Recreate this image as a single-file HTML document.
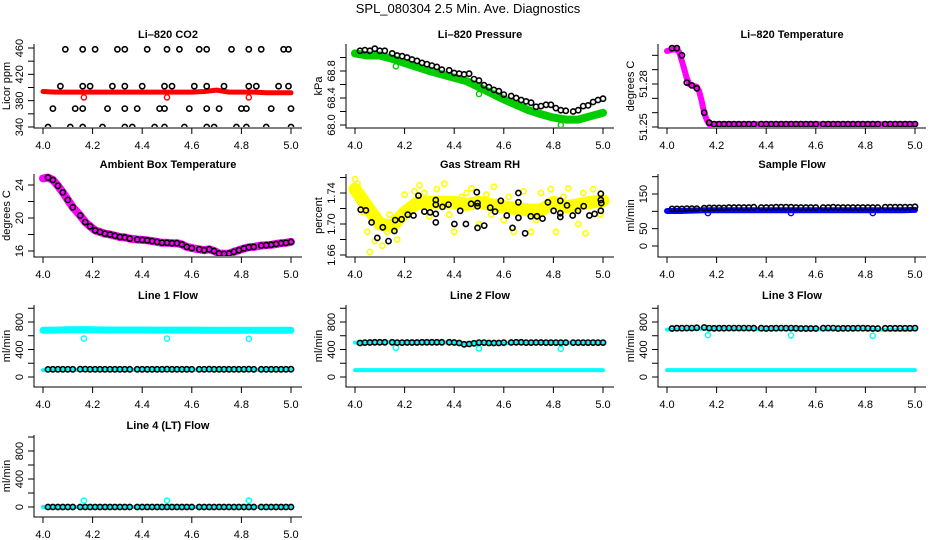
<!DOCTYPE html>
<html><head><meta charset="utf-8">
<style>
html,body{margin:0;padding:0;background:#fff;}
svg{display:block;font-family:"Liberation Sans",Arial,sans-serif;}
</style></head>
<body>
<svg id="fig" width="936" height="540" viewBox="0 0 936 540">
<text x="468" y="13" text-anchor="middle" font-size="13">SPL_080304  2.5 Min. Ave. Diagnostics</text>
</svg>
<script>
const blackX = [4.02,4.04,4.06,4.08,4.10,4.12,4.15,4.17,4.19,4.21,4.23,4.25,4.27,4.29,4.31,4.33,4.35,4.38,4.40,4.42,4.44,4.46,4.48,4.50,4.52,4.54,4.56,4.58,4.60,4.63,4.65,4.67,4.69,4.71,4.73,4.75,4.77,4.79,4.81,4.83,4.85,4.88,4.90,4.92,4.94,4.96,4.98,5.00];
const bandX = [4.00,4.05,4.10,4.15,4.20,4.25,4.30,4.35,4.40,4.45,4.50,4.55,4.60,4.65,4.70,4.75,4.80,4.85,4.90,4.95,5.00];
const outlierX = [4.165,4.50,4.83];
const xTicks = [4.0,4.2,4.4,4.6,4.8,5.0];
const xTickLabels = ["4.0","4.2","4.4","4.6","4.8","5.0"];

const co2BlackX = [4.09,4.16,4.21,4.30,4.33,4.42,4.50,4.55,4.63,4.66,4.76,4.83,4.88,4.97,4.99, 4.07,4.16,4.19,4.28,4.33,4.40,4.49,4.52,4.61,4.66,4.73,4.83,4.86,4.95,4.99, 4.04,4.13,4.16,4.26,4.33,4.38,4.47,4.49,4.59,4.66,4.71,4.80,4.82,4.92,5.00, 4.02,4.11,4.16,4.24,4.33,4.36,4.45,4.49,4.57,4.66,4.69,4.78,4.82,4.90,5.00];
const co2BlackY = [458,458,458,458,458,458,458,458,458,458,458,458,458,458,458, 402,402,402,402,402,402,402,402,402,402,402,402,402,402,402, 368,368,368,368,368,368,368,368,368,368,368,368,368,368,368, 340,340,340,340,340,340,340,340,340,340,340,340,340,340,340];
const co2Band = [394,393,393,393,393,393,393,393,393,393,393,393,393,394,396,393,393,393,392,392,392];
const co2Outliers = [385,385,385];

const presBlack = [69.10,69.11,69.10,69.13,69.10,69.10,69.06,69.03,69.02,69.00,68.97,68.95,68.92,68.90,68.88,68.86,68.82,68.81,68.77,68.76,68.75,68.76,68.68,68.66,68.59,68.56,68.52,68.50,68.45,68.43,68.40,68.37,68.35,68.33,68.27,68.28,68.30,68.30,68.25,68.22,68.21,68.20,68.22,68.28,68.29,68.34,68.37,68.39];
const presBand = [69.06,69.03,69.03,68.98,68.92,68.86,68.80,68.75,68.70,68.65,68.56,68.47,68.38,68.30,68.22,68.16,68.11,68.08,68.08,68.13,68.18];
const presOutliers = [68.87,68.46,68.00];

const tempBlack = [51.305,51.305,51.300,51.281,51.279,51.277,51.260,51.253,51.252,51.252,51.252,51.252,51.252,51.252,51.252,51.252,51.252,51.252,51.252,51.252,51.252,51.252,51.252,51.252,51.252,51.252,51.252,51.252,51.252,51.252,51.252,51.252,51.252,51.252,51.252,51.252,51.252,51.252,51.252,51.252,51.252,51.252,51.252,51.252,51.252,51.252,51.252,51.252];
const tempBandX = [4.00,4.02,4.04,4.05,4.06,4.07,4.08,4.09,4.10,4.12,4.13,4.14,4.15,4.16,4.17,4.18,4.20,4.50,5.00];
const tempBand = [51.303,51.304,51.304,51.302,51.296,51.290,51.284,51.280,51.279,51.278,51.275,51.268,51.260,51.255,51.252,51.252,51.252,51.252,51.252];

const ambBlack = [24.9,24.6,23.9,23.1,22.2,21.3,20.3,19.5,19.0,18.5,18.3,18.1,18.0,17.85,17.7,17.65,17.5,17.4,17.35,17.3,17.2,17.1,17.0,17.0,16.95,16.95,16.8,16.5,16.35,16.2,16.1,16.2,16.0,15.7,15.65,15.7,15.9,16.1,16.3,16.45,16.5,16.65,16.7,16.75,16.85,16.95,17.0,17.1];

const rhBlackX = [4.023,4.044,4.067,4.090,4.112,4.135,4.159,4.162,4.188,4.213,4.236,4.256,4.280,4.303,4.326,4.326,4.326,4.326,4.353,4.377,4.401,4.424,4.447,4.468,4.491,4.494,4.494,4.494,4.521,4.545,4.565,4.588,4.612,4.635,4.659,4.659,4.659,4.686,4.709,4.734,4.756,4.778,4.801,4.828,4.828,4.828,4.855,4.878,4.899,4.922,4.945,4.966,4.991,4.991,4.991,4.993];
const rhBlackY = [1.7185,1.7176,1.702,1.682,1.6957,1.678,1.691,1.705,1.706,1.712,1.711,1.7366,1.716,1.715,1.731,1.725,1.713,1.702,1.722,1.725,1.700,1.717,1.700,1.726,1.741,1.723,1.727,1.695,1.698,1.721,1.716,1.730,1.711,1.695,1.728,1.740,1.708,1.688,1.710,1.710,1.707,1.728,1.717,1.730,1.714,1.709,1.724,1.711,1.717,1.723,1.711,1.713,1.739,1.731,1.717,1.727];
const rhBand = [1.745,1.722,1.700,1.697,1.715,1.727,1.728,1.728,1.728,1.725,1.728,1.725,1.722,1.720,1.718,1.718,1.728,1.722,1.725,1.728,1.730];
const rhYellowX = [4.00,4.01,4.03,4.05,4.06,4.08,4.11,4.14,4.17,4.20,4.24,4.26,4.30,4.33,4.36,4.40,4.43,4.47,4.50,4.53,4.56,4.60,4.64,4.68,4.71,4.75,4.79,4.81,4.86,4.90,4.93,4.96,4.99,4.02,4.09,4.13,4.22,4.28,4.38,4.45,4.55,4.62,4.73,4.84,4.92];
const rhYellowY = [1.758,1.752,1.716,1.690,1.664,1.678,1.672,1.712,1.680,1.738,1.742,1.750,1.710,1.745,1.752,1.690,1.735,1.746,1.700,1.738,1.748,1.705,1.690,1.742,1.690,1.740,1.745,1.690,1.746,1.700,1.688,1.745,1.712,1.735,1.712,1.690,1.725,1.740,1.712,1.740,1.712,1.735,1.705,1.735,1.740];

const sampBlack = [107,107,107,108,108,108,109,110,110,110,110,111,111,111,111,111,112,111,111,111,112,112,112,112,111,111,111,111,111,111,111,112,111,111,111,111,111,111,111,111,111,112,112,112,112,112,112,113];
const sampBand = [101,101,102,103,103,103,103,103,103,103,103,103,103,103,103,103,103,103,103,103,104];
const sampOutliers = [95,95,95];

const l1High = [680,682,688,690,686,684,684,683,683,682,682,682,682,681,681,681,680,680,680,680,680];
const l1Low = [100,102,102,103,103,103,103,103,103,103,103,103,103,103,103,103,103,103,103,103,103];
const l1Black = [110,112,112,112,112,112,113,113,112,112,112,112,112,112,112,112,112,112,112,112,112,112,112,113,112,112,112,112,112,112,112,113,112,112,112,112,112,112,112,113,112,112,112,112,112,112,112,113];
const l1Outliers = [560,560,555];

const l2Black = [495,500,502,505,505,505,505,500,500,502,502,502,505,505,505,505,505,505,502,495,475,480,490,500,500,495,495,495,500,502,505,505,500,500,502,502,500,500,500,500,500,500,500,500,500,500,500,500];
const l2High = [500,500,505,505,502,502,502,502,500,480,495,495,495,498,498,498,498,498,498,498,498];
const l2Low = [100,100,100,100,100,100,100,100,100,100,100,100,100,100,100,100,100,100,100,100,100];
const l2Outliers = [425,415,410];

const l3Black = [705,710,710,712,712,715,720,712,708,710,710,712,712,712,712,712,710,710,705,708,710,712,710,712,708,705,705,705,705,710,712,712,705,708,708,708,710,710,708,705,705,708,708,708,708,708,708,710];
const l3High = [690,695,700,705,700,700,700,700,695,700,700,695,695,695,695,695,695,690,690,690,695];
const l3Low = [100,100,100,100,100,100,100,100,100,100,100,100,100,100,100,100,100,100,100,100,100];
const l3Outliers = [610,605,600];

const l4Black = [0,0,0,0,0,0,0,0,0,0,0,0,0,0,0,0,0,0,0,0,0,0,0,0,0,0,0,0,0,0,0,0,0,0,0,0,0,0,0,0,0,0,0,0,0,0,0,0];
const l4Band = [0,0,0,0,0,0,0,0,0,0,0,0,0,0,0,0,0,0,0,0,0];
const l4Outliers = [92,92,92];

const NS = "http://www.w3.org/2000/svg";
const svg = document.getElementById('fig');
function mk(tag, attrs, parent) {
  const e = document.createElementNS(NS, tag);
  for (const k in attrs) e.setAttribute(k, attrs[k]);
  (parent || svg).appendChild(e);
  return e;
}

const colLeft = [34, 346, 658];
const rowTop = [44, 174, 305, 435];
const rowBot = [128, 257, 387, 517];

function makePanel(cfg) {
  const L = colLeft[cfg.col], R = L + 268, T = rowTop[cfg.row], B = rowBot[cfg.row];
  const g = mk('g', {});
  
  
  const sx = v => (L + 9) + (v - 4.0) * 248;
  const sy = v => cfg.p0 + (v - cfg.v0) * (cfg.p1 - cfg.p0) / (cfg.v1 - cfg.v0);
  const t = mk('text', {x: (L + R) / 2, y: T - 6, 'text-anchor': 'middle', 'font-size': 11, 'font-weight': 'bold'}, g);
  t.textContent = cfg.title;
  
  
  const ax = mk('path', {d: `M${L},${T}V${B}H${R}`, fill: 'none', stroke: '#000', 'stroke-width': 1}, g);
  
  
  xTicks.forEach((v, i) => {
    mk('line', {x1: sx(v), x2: sx(v), y1: B, y2: B + 6, stroke: '#000'}, g);
    const tl = mk('text', {x: sx(v), y: B + 21, 'text-anchor': 'middle', 'font-size': 11}, g);
    tl.textContent = xTickLabels[i];
    
    
  });
  cfg.yTicks.forEach(v => {
    mk('line', {x1: L - 6, x2: L, y1: sy(v), y2: sy(v), stroke: '#000'}, g);
  });
  cfg.yLabels.forEach(s => {
    const y = sy(parseFloat(s));
    const tl = mk('text', {x: L - 11, y: y, 'text-anchor': 'middle', 'font-size': 11, transform: `rotate(-90 ${L - 11} ${y})`}, g);
    tl.textContent = s;
    
    
  });
  const yl = mk('text', {x: L - 24, y: (T + B) / 2, 'text-anchor': 'middle', 'font-size': 11, transform: `rotate(-90 ${L - 24} ${(T + B) / 2})`}, g);
  yl.textContent = cfg.ylab;
  
  
  const cid = 'c' + cfg.name;
  const cp = mk('clipPath', {id: cid}, g);
  mk('rect', {x: L + 1, y: T - 4, width: R - L, height: B - T + 3}, cp);
  const plot = mk('g', {'clip-path': `url(#${cid})`}, g);
  cfg.sx = sx; cfg.sy = sy; cfg.plot = plot;
  return cfg;
}

function band(p, xs, ys, color, w, name) {
  const d = xs.map((x, i) => (i ? 'L' : 'M') + p.sx(x).toFixed(1) + ',' + p.sy(ys[i]).toFixed(1)).join('');
  const e = mk('path', {d: d, fill: 'none', stroke: color, 'stroke-width': w, 'stroke-linejoin': 'round', 'stroke-linecap': 'round'}, p.plot);
  
  
}
function pts(p, xs, ys, color, sw, name) {
  xs.forEach((x, i) => {
    const c = mk('circle', {cx: p.sx(x).toFixed(1), cy: p.sy(ys[i]).toFixed(1), r: 2.6, fill: 'none', stroke: color, 'stroke-width': sw}, p.plot);
    
    
  });
}

let p = makePanel({name: 'co2-panel', col: 0, row: 0, title: 'Li\u2013820 CO2', ylab: 'Licor ppm', v0: 340, p0: 127, v1: 460, p1: 48, yTicks: [340,360,380,400,420,440,460], yLabels: ['340','380','420','460']});
band(p, bandX, co2Band, '#ff0000', 5, 'co2-band');
pts(p, outlierX, co2Outliers, '#ff0000', 1.4, 'co2-outlier');
pts(p, co2BlackX, co2BlackY, '#000', 1.6, 'co2-point');

p = makePanel({name: 'pressure-panel', col: 1, row: 0, title: 'Li\u2013820 Pressure', ylab: 'kPa', v0: 68.0, p0: 125, v1: 68.8, p1: 71, yTicks: [68.0,68.2,68.4,68.6,68.8,69.0], yLabels: ['68.0','68.4','68.8']});
band(p, bandX, presBand, '#00cc00', 8, 'pressure-band');
pts(p, outlierX, presOutliers, '#00cc00', 1.4, 'pressure-outlier');
pts(p, blackX, presBlack, '#000', 1.6, 'pressure-point');

p = makePanel({name: 'li820-temp-panel', col: 2, row: 0, title: 'Li\u2013820 Temperature', ylab: 'degrees C', v0: 51.25, p0: 127, v1: 51.28, p1: 84, yTicks: [51.25,51.26,51.27,51.28,51.29,51.30], yLabels: ['51.25','51.28']});
band(p, tempBandX, tempBand, '#ff00ff', 6, 'temp-band');
pts(p, blackX, tempBlack, '#000', 1.6, 'temp-point');

p = makePanel({name: 'ambient-panel', col: 0, row: 1, title: 'Ambient Box Temperature', ylab: 'degrees C', v0: 16, p0: 251, v1: 24, p1: 185, yTicks: [16,18,20,22,24], yLabels: ['16','20','24']});
band(p, [4.00].concat(blackX), [24.8].concat(ambBlack), '#ff00ff', 8, 'ambient-band');
pts(p, blackX, ambBlack, '#000', 1.6, 'ambient-point');

p = makePanel({name: 'rh-panel', col: 1, row: 1, title: 'Gas Stream RH', ylab: 'percent', v0: 1.66, p0: 255, v1: 1.74, p1: 193, yTicks: [1.66,1.68,1.70,1.72,1.74,1.76], yLabels: ['1.66','1.70','1.74']});
band(p, bandX, rhBand, '#ffff00', 13, 'rh-band');
pts(p, rhYellowX, rhYellowY, '#ffff00', 1.6, 'rh-yellow-point');
pts(p, rhBlackX, rhBlackY, '#000', 1.6, 'rh-point');

p = makePanel({name: 'sample-flow-panel', col: 2, row: 1, title: 'Sample Flow', ylab: 'ml/min', v0: 0, p0: 246, v1: 150, p1: 194, yTicks: [0,50,100,150,200], yLabels: ['0','50','150']});
band(p, bandX, sampBand, '#0000ff', 6, 'sample-band');
pts(p, outlierX, sampOutliers, '#0000ff', 1.4, 'sample-outlier');
pts(p, blackX, sampBlack, '#000', 1.6, 'sample-point');

const flowTicks = [0,200,400,600,800,1000];
const flowLabels = ['0','400','800'];
p = makePanel({name: 'line1-panel', col: 0, row: 2, title: 'Line 1 Flow', ylab: 'ml/min', v0: 0, p0: 377, v1: 800, p1: 322, yTicks: flowTicks, yLabels: flowLabels});
band(p, bandX, l1High, '#00ffff', 7, 'line1-high-band');
band(p, bandX, l1Low, '#00ffff', 4, 'line1-low-band');
pts(p, outlierX, l1Outliers, '#00ffff', 1.4, 'line1-outlier');
pts(p, blackX, l1Black, '#000', 1.6, 'line1-point');
p = makePanel({name: 'line2-panel', col: 1, row: 2, title: 'Line 2 Flow', ylab: 'ml/min', v0: 0, p0: 377, v1: 800, p1: 322, yTicks: flowTicks, yLabels: flowLabels});
band(p, bandX, l2High, '#00ffff', 4, 'line2-high-band');
band(p, bandX, l2Low, '#00ffff', 4, 'line2-low-band');
pts(p, outlierX, l2Outliers, '#00ffff', 1.4, 'line2-outlier');
pts(p, blackX, l2Black, '#000', 1.6, 'line2-point');
p = makePanel({name: 'line3-panel', col: 2, row: 2, title: 'Line 3 Flow', ylab: 'ml/min', v0: 0, p0: 377, v1: 800, p1: 322, yTicks: flowTicks, yLabels: flowLabels});
band(p, bandX, l3High, '#00ffff', 4, 'line3-high-band');
band(p, bandX, l3Low, '#00ffff', 4, 'line3-low-band');
pts(p, outlierX, l3Outliers, '#00ffff', 1.4, 'line3-outlier');
pts(p, blackX, l3Black, '#000', 1.6, 'line3-point');
p = makePanel({name: 'line4-panel', col: 0, row: 3, title: 'Line 4 (LT) Flow', ylab: 'ml/min', v0: 0, p0: 507, v1: 800, p1: 451, yTicks: flowTicks, yLabels: flowLabels});
band(p, bandX, l4Band, '#00ffff', 4, 'line4-band');
pts(p, outlierX, l4Outliers, '#00ffff', 1.4, 'line4-outlier');
pts(p, blackX, l4Black, '#000', 1.6, 'line4-point');
</script>
</body></html>
